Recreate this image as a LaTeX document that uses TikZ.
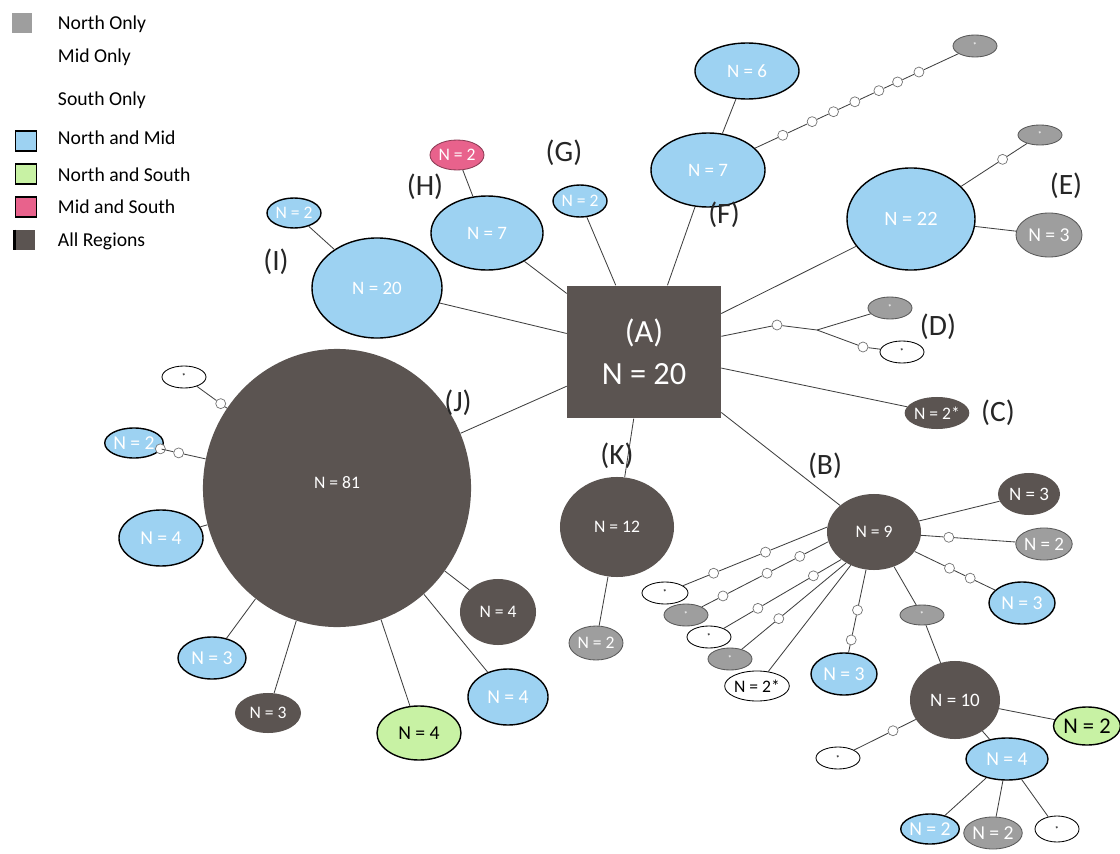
\documentclass[tikz,border=0pt]{standalone}
\usepackage{fontspec}
\setmainfont{Carlito}
\usetikzlibrary{shapes.geometric,calc}
\definecolor{allreg}{HTML}{5B5451}
\definecolor{normid}{HTML}{9DD2F2}
\definecolor{norsou}{HTML}{C8F2A4}
\definecolor{midsou}{HTML}{E8628C}
\definecolor{noronly}{HTML}{9E9E9E}

\begin{document}
\begin{tikzpicture}[x=0.025cm,y=-0.025cm]
% Stile nodi
\tikzset{
  hapl/.style 2 args={ellipse, inner sep=0pt, minimum width=#1*0.05cm,
    minimum height=#2*0.05cm, font=\fontsize{12.5}{14}\selectfont},
  nm/.style={fill=normid, draw=black, line width=1pt, text=white},
  ns/.style={fill=norsou, draw=black, line width=1pt, text=black},
  ms/.style={fill=midsou, draw=midsou!60!black, line width=0.6pt, text=white},
  al/.style={fill=allreg, text=white},
  no/.style={fill=noronly, draw=black!65, line width=0.6pt, text=white},
  mo/.style={fill=white, draw=black, line width=0.6pt, text=black},
  hop/.style={circle, draw=black!55, fill=white, line width=0.5pt,
    inner sep=0pt, minimum size=0.25cm},
  link/.style={draw=black!75, line width=0.6pt},
  lab/.style={font=\fontsize{21}{24}\selectfont, text=black!85},
  keybox/.style={inner sep=0pt, minimum width=0.52cm, minimum height=0.5cm},
  keytext/.style={anchor=west, font=\fontsize{14}{16}\selectfont},
  dot/.style={font=\fontsize{6}{6}\selectfont}
}
\useasboundingbox (0,0) rectangle (1120,854);

% Legenda
\node[keybox, fill=noronly] (k1) at (22,23) {};
\node[keytext] (t1) at (53,24) {North Only};
\node[keytext] (t2) at (53,57) {Mid Only};
\node[keytext] (t3) at (53,100) {South Only};
\node[keybox, nm] (k4) at (26,141) {};
\node[keytext] (t4) at (53,138) {North and Mid};
\node[keybox, ns] (k5) at (26,174) {};
\node[keytext] (t5) at (53,175) {North and South};
\node[keybox, ms, line width=1pt, draw=black] (k6) at (26,207) {};
\node[keytext] (t6) at (53,207) {Mid and South};
\node[keybox, al] (k7) at (25,240) {};
\node[keytext] (t7) at (53,241) {All Regions};
\draw[line width=2pt] (k7.north west) -- (k7.south west);

% Nodo centrale
\node[al, rectangle, minimum width=3.85cm, minimum height=3.32cm, align=center,
  font=\fontsize{23}{30}\selectfont] (a) at (644,352) {(A)\\N = 20};

% Nodi
\node[hapl={65}{50}, nm, font=\fontsize{13.5}{15}\selectfont] (i20) at (377,288) {N = 20};
\node[hapl={27}{15}, nm] (i2) at (294,213) {N = 2};
\node[hapl={56}{37}, nm, font=\fontsize{13.5}{15}\selectfont] (h7) at (487,233) {N = 7};
\node[hapl={27}{15}, ms] (h2) at (457,155) {N = 2};
\node[hapl={27}{16}, nm] (g2) at (580,201) {N = 2};
\node[hapl={57}{37}, nm, font=\fontsize{13.5}{15}\selectfont] (f7) at (708,170) {N = 7};
\node[hapl={52}{28}, nm, font=\fontsize{13.5}{15}\selectfont] (f6) at (747,71) {N = 6};
\node[hapl={22}{11}, no, dot] (fx) at (975,46) {*};
\node[hapl={64}{51}, nm, font=\fontsize{14.5}{16}\selectfont] (e22) at (911,219) {N = 22};
\node[hapl={33}{22}, no, font=\fontsize{14}{16}\selectfont] (e3) at (1049,235) {N = 3};
\node[hapl={22}{10}, no, dot] (ex) at (1040,135) {*};
\node[hapl={22}{11}, no, dot] (dx1) at (890,308) {*};
\node[hapl={22}{11}, mo, dot] (dx2) at (902,352) {*};
\node[hapl={26}{16}, al] (c2) at (937,413) {N = 2*};
\node[hapl={47}{38}, al] (b9) at (874,532) {N = 9};
\node[hapl={31}{21}, al, font=\fontsize{13.5}{15}\selectfont] (b3a) at (1029,494) {N = 3};
\node[hapl={27}{16}, no, font=\fontsize{13.5}{15}\selectfont] (b2) at (1044,544) {N = 2};
\node[hapl={33}{21}, nm, font=\fontsize{14}{16}\selectfont] (b3b) at (1022,603) {N = 3};
\node[hapl={22}{10}, no, dot] (bx) at (922,615) {*};
\node[hapl={45}{39}, al, font=\fontsize{13.5}{15}\selectfont] (b10) at (955,700) {N = 10};
\node[hapl={33}{21}, nm, font=\fontsize{14}{16}\selectfont] (b3c) at (844,674) {N = 3};
\node[hapl={23}{11}, mo, dot] (bl1) at (665,593) {*};
\node[hapl={22}{11}, no, dot] (bl2) at (686,615) {*};
\node[hapl={22}{11}, mo, dot] (bl3) at (709,637) {*};
\node[hapl={22}{11}, no, dot] (bl4) at (730,659) {*};
\node[hapl={27}{15}, mo] (bl5) at (757,686) {N = 2*};
\node[hapl={32}{19}, ns, font=\fontsize{16}{18}\selectfont] (t2n) at (1087,726) {N = 2};
\node[hapl={22}{11}, mo, dot] (tx) at (838,758) {*};
\node[hapl={41}{21}, nm, font=\fontsize{14}{16}\selectfont] (t4n) at (1007,759) {N = 4};
\node[hapl={26}{15}, nm, font=\fontsize{14}{16}\selectfont] (u2a) at (930,829) {N = 2};
\node[hapl={26}{16}, no, font=\fontsize{14}{16}\selectfont] (u2b) at (993,833) {N = 2};
\node[hapl={22}{13}, mo, dot] (ux) at (1057,829) {*};
\node[hapl={57}{50}, al] (k12) at (617,527) {N = 12};
\node[hapl={27}{17}, no] (k2) at (596,643) {N = 2};
\node[hapl={134}{139}, al] (j81) at (337,488) {\raisebox{1.2ex}{N = 81}};
\node[hapl={22}{11}, mo, dot] (jx) at (184,377) {*};
\node[hapl={27}{15}, nm, font=\fontsize{14}{16}\selectfont] (j2) at (134,443) {N = 2};
\node[hapl={42}{28}, nm, font=\fontsize{14}{16}\selectfont] (j4a) at (161,538) {N = 4};
\node[hapl={34}{21}, nm, font=\fontsize{14}{16}\selectfont] (j3a) at (212,658) {N = 3};
\node[hapl={33}{20}, al] (j3b) at (268,713) {N = 3};
\node[hapl={42}{27}, ns, font=\fontsize{14}{16}\selectfont] (j4b) at (419,733) {N = 4};
\node[hapl={40}{28}, nm, font=\fontsize{14}{16}\selectfont] (j4c) at (508,697) {N = 4};
\node[hapl={38}{33}, al] (j4d) at (498,612) {N = 4};

% Passi intermedi
\node[hop] (fc1) at ($(f7)!0.28!(fx)$) {};
\node[hop] (fc2) at ($(f7)!0.39!(fx)$) {};
\node[hop] (fc3) at ($(f7)!0.47!(fx)$) {};
\node[hop] (fc4) at ($(f7)!0.55!(fx)$) {};
\node[hop] (fc5) at ($(f7)!0.64!(fx)$) {};
\node[hop] (fc6) at ($(f7)!0.71!(fx)$) {};
\node[hop] (fc7) at ($(f7)!0.79!(fx)$) {};
\node[hop] (ec) at ($(e22)!0.71!(ex)$) {};
\node[hop] (d1) at (777,325) {};
\coordinate (dbr) at (817,330);
\node[hop] (d2) at (863,347) {};
\node[hop] (bc1) at ($(b9.174)!0.38!(bl1)$) {};
\node[hop] (bc2) at ($(b9.174)!0.70!(bl1)$) {};
\node[hop] (bc3) at ($(b9.192)!0.20!(bl2)$) {};
\node[hop] (bc4) at ($(b9.192)!0.43!(bl2)$) {};
\node[hop] (bc5) at ($(b9.192)!0.74!(bl2)$) {};
\node[hop] (bc6) at ($(b9.220)!0.21!(bl3)$) {};
\node[hop] (bc7) at ($(b9.220)!0.63!(bl3)$) {};
\node[hop] (bc8) at ($(b9.228)!0.58!(bl4)$) {};
\node[hop] (bc9) at ($(b9)!0.44!(b2)$) {};
\node[hop] (bc10) at ($(b9)!0.51!(b3b)$) {};
\node[hop] (bc11) at ($(b9)!0.65!(b3b)$) {};
\node[hop] (bc12) at ($(b9)!0.55!(b3c)$) {};
\node[hop] (bc13) at ($(b9)!0.76!(b3c)$) {};
\node[hop] (tc) at ($(b10)!0.53!(tx)$) {};
\node[hop] (jc1) at ($(j81)!0.76!(jx)$) {};
\node[hop] (jc2) at ($(j81)!0.78!(j2)$) {};
\node[hop] (jc3) at ($(j81)!0.87!(j2)$) {};

% Etichette
\node[lab] (lb) at (825,466) {(B)};
\node[lab] (lc) at (998,413) {(C)};
\node[lab] (ld) at (938,327) {(D)};
\node[lab] (le) at (1066,186) {(E)};
\node[lab] (lf) at (724,215) {(F)};
\node[lab] (lg) at (564,153) {(G)};
\node[lab] (lh) at (425,187) {(H)};
\node[lab] (li) at (276,262) {(I)};
\node[lab] (lj) at (458,403) {(J)};
\node[lab] (lk) at (617,456) {(K)};

% Archi
\draw[link] (a) -- (i20);
\draw[link] (a) -- (h7);
\draw[link] (a) -- (g2);
\draw[link] (a) -- (f7);
\draw[link] (a) -- (e22);
\draw[link] (a) -- (d1) -- (dbr) -- (dx1);
\draw[link] (dbr) -- (d2) -- (dx2);
\draw[link] (a) -- (c2);
\draw[link] (a) -- (b9);
\draw[link] (a) -- (k12);
\draw[link] (a) -- (j81);

\draw[link] (i20) -- (i2);
\draw[link] (h7) -- (h2);
\draw[link] (f7) -- (f6);
\draw[link] (f7) -- (fc1) -- (fc2) -- (fc3) -- (fc4) -- (fc5) -- (fc6) -- (fc7) -- (fx);
\draw[link] (e22) -- (e3);
\draw[link] (e22) -- (ec) -- (ex);

\draw[link] (b9) -- (b3a);
\draw[link] (b9) -- (bc9) -- (b2);
\draw[link] (b9) -- (bc10) -- (bc11) -- (b3b);
\draw[link] (b9) -- (bx) -- (b10);
\draw[link] (b9) -- (bc12) -- (bc13) -- (b3c);
\draw[link] (b9.174) -- (bc1) -- (bc2) -- (bl1);
\draw[link] (b9.192) -- (bc3) -- (bc4) -- (bc5) -- (bl2);
\draw[link] (b9.220) -- (bc6) -- (bc7) -- (bl3);
\draw[link] (b9.228) -- (bc8) -- (bl4);
\draw[link] (b9.235) -- (bl5);
\draw[link] (b10) -- (t2n);
\draw[link] (b10) -- (tc) -- (tx);
\draw[link] (b10) -- (t4n);
\draw[link] (t4n) -- (u2a);
\draw[link] (t4n) -- (u2b);
\draw[link] (t4n) -- (ux);

\draw[link] (k12) -- (k2);

\draw[link] (j81) -- (jc1) -- (jx);
\draw[link] (j81) -- (jc2) -- (jc3) -- (j2);
\draw[link] (j81) -- (j4a);
\draw[link] (j81) -- (j3a);
\draw[link] (j81) -- (j3b);
\draw[link] (j81) -- (j4b);
\draw[link] (j81) -- (j4c);
\draw[link] (j81) -- (j4d);
\end{tikzpicture}
\end{document}
